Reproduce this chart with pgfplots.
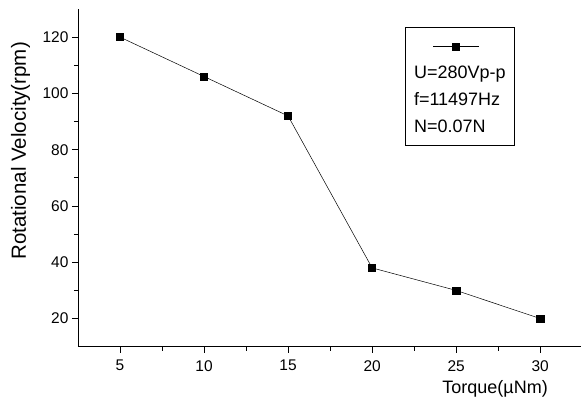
\documentclass[border=0pt]{standalone}
\usepackage{fontspec}
\setmainfont{Liberation Sans}
\usepackage{pgfplots}
\pgfplotsset{compat=1.18}
\begin{document}
\begin{tikzpicture}
\begin{axis}[
  scale only axis, width=503pt, height=338pt,
  xmin=2.5, xmax=32.4, ymin=10, ymax=130,
  axis x line*=bottom, axis y line*=left,
  axis line style={line width=0.9pt},
  xtick={5,10,...,30}, ytick={20,40,...,120},
  minor x tick num=1, minor y tick num=1,
  tick align=outside,
  major tick length=6pt, minor tick length=4pt,
  tick style={black, line width=0.8pt},
  ticklabel style={font=\fontsize{15.5}{17}\selectfont},
  xticklabel style={yshift=-4pt},
  /pgf/number format/assume math mode=true,
  xlabel={Torque(µNm)},
  xlabel style={font=\fontsize{18}{20}\selectfont, at={(rel axis cs:0.83,0)}, anchor=north, yshift=-34pt, inner sep=0pt},
  ylabel={Rotational Velocity(rpm)},
  ylabel style={font=\fontsize{20.5}{22}\selectfont, at={(ticklabel cs:0.58,9pt)}, inner sep=0pt},
  legend style={at={(rel axis cs:0.65,0.947)}, anchor=north west, draw=black, line width=0.8pt,
    font=\fontsize{18}{20}\selectfont, row sep=8.5pt, inner xsep=7pt, inner ysep=10pt},
  legend cell align=left,
]
\addplot[black, line width=0.5pt, mark=square*, mark size=3.6pt,
  legend image code/.code={
    \begin{scope}[overlay]
      \draw[mark repeat=2, mark phase=2] plot coordinates {(21pt,0pt)(44pt,0pt)(67pt,0pt)};
    \end{scope}}]
  coordinates {(5,120) (10,106) (15,92) (20,38) (25,30) (30,20)};
\addlegendentry{\rule{0pt}{13pt}}
\addlegendimage{empty legend}
\addlegendentry{U=280Vp-p}
\addlegendimage{empty legend}
\addlegendentry{f=11497Hz}
\addlegendimage{empty legend}
\addlegendentry{N=0.07N}
\end{axis}
\path ([yshift=9pt]current axis.north) ([yshift=-10pt]current axis.outer south) ([xshift=-11pt]current axis.outer west);
\end{tikzpicture}
\end{document}
